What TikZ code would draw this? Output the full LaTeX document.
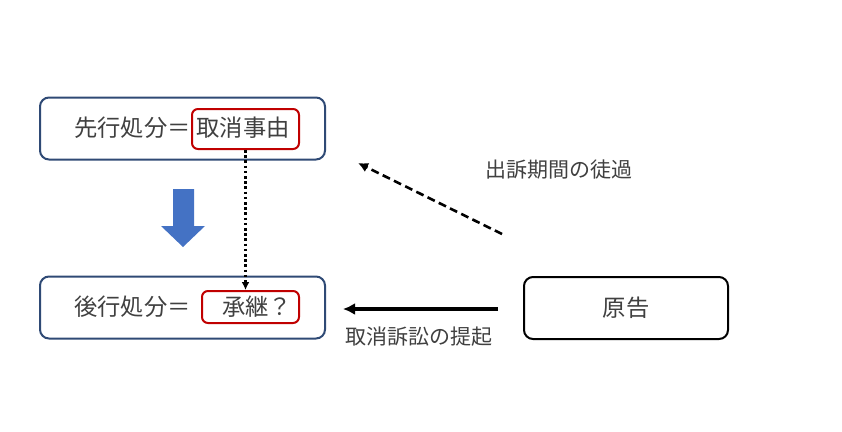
\documentclass[tikz,border=0pt]{standalone}
\usepackage{fontspec}
\setmainfont{Noto Sans CJK JP}
\usetikzlibrary{calc}
\usetikzlibrary{arrows.meta}
\definecolor{boxblue}{HTML}{2F4A75}
\definecolor{boxred}{HTML}{C00000}
\definecolor{arrowblue}{HTML}{4472C4}
\definecolor{txtgray}{HTML}{404040}
\tikzset{
  casebox/.style={draw=boxblue,line width=2pt,rounded corners=9pt,minimum width=285pt,minimum height=62pt},
  partybox/.style={draw=black,line width=2pt,rounded corners=9pt,minimum width=204pt,minimum height=62pt},
  redbox/.style={draw=boxred,line width=2pt,rounded corners=6pt},
  bigtxt/.style={text=txtgray,inner sep=0pt,font=\fontsize{23.3}{28}\selectfont},
  smalltxt/.style={text=txtgray,inner sep=0pt,font=\fontsize{21}{25}\selectfont}
}
\begin{document}
\begin{tikzpicture}[x=1pt,y=-1pt]
\useasboundingbox (0,0) rectangle (842,431);
% boxes
\node[casebox] (prior) at (182.5,128.5) {};
\node[casebox] (later) at (182.5,307.5) {};
\node[partybox] (plaintiff) at (626,308) {};
\node[redbox,minimum width=107pt,minimum height=40pt] (reason) at (245.5,129) {};
\node[redbox,minimum width=97pt,minimum height=32pt] (succ) at (250.5,307) {};
% texts in boxes
\node[bigtxt,anchor=west] (priortxt) at (74,128) {先行処分＝};
\node[bigtxt] (reasontxt) at (243,128) {取消事由};
\node[bigtxt,anchor=west] (latertxt) at (74,307) {後行処分＝};
\node[bigtxt] (succtxt) at (257,307) {承継？};
\node[bigtxt] (plaintifftxt) at (plaintiff) {原告};
% blue arrow
\fill[arrowblue] (173,189) -- (194,189) -- (194,226) -- (205,226) -- (183,247) -- (161,226) -- (173,226) -- cycle;
% connectors
\draw[line width=2.6pt,dash pattern=on 2.6pt off 2.6pt,-{Latex[length=8pt,width=8pt]}] (reason.south) -- (reason.south |- succ.north);
\coordinate (dashstart) at (502,234);
\coordinate (dashend) at (358,163);
\draw[line width=2.6pt,dash pattern=on 8pt off 4.5pt,-{Latex[length=10pt,width=10pt]}] (dashstart) -- (dashend);
\coordinate (suitstart) at (498,309);
\coordinate (suitend) at (343,309);
\draw[line width=3.4pt,-{Latex[length=12pt,width=12pt]}] (suitstart) -- (suitend);
% labels
\node[smalltxt,anchor=west] (lapse) at (485,170) {出訴期間の徒過};
\node[smalltxt,anchor=west] (suit) at (345,337) {取消訴訟の提起};
\end{tikzpicture}
\end{document}
